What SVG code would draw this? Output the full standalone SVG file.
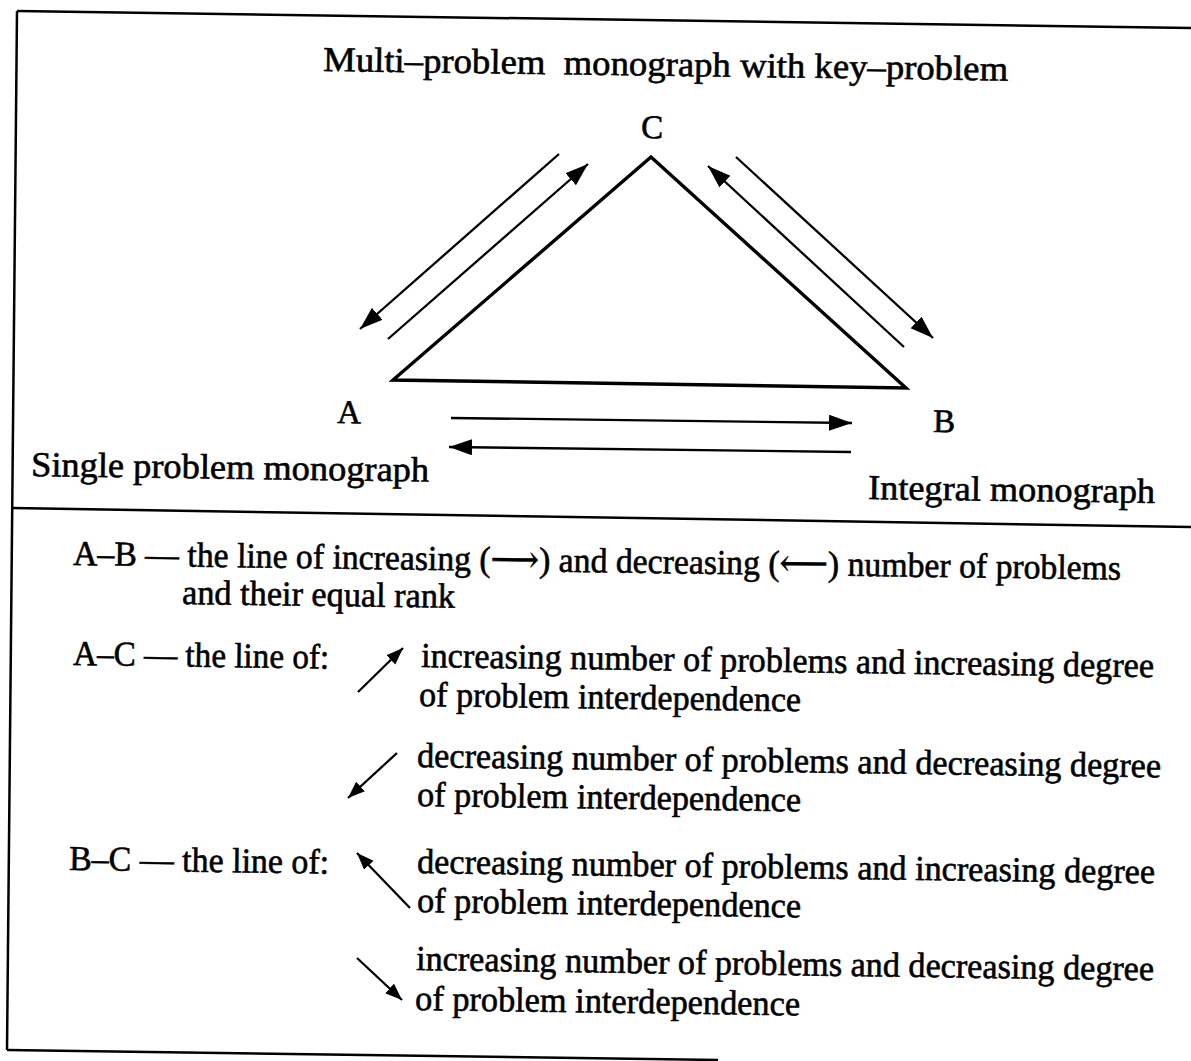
<svg xmlns="http://www.w3.org/2000/svg" width="1191" height="1061" viewBox="0 0 1191 1061">
<defs>
<style>
text{font-family:"Liberation Serif","Times New Roman","DejaVu Serif",serif;fill:#000;stroke:#000;stroke-width:0.6;white-space:pre}
.t{font-size:35px}
.l{font-size:33px}
.lg{font-size:35px}
.frame{stroke:#000;stroke-width:2.5;fill:none}
.tri{stroke:#000;stroke-width:3.4;fill:none;stroke-linejoin:miter}
.arr{stroke:#000;stroke-width:2.3;fill:none;marker-end:url(#head)}
.sarr{stroke:#000;stroke-width:2.3;fill:none;marker-end:url(#shead)}
</style>
<marker id="head" markerUnits="userSpaceOnUse" markerWidth="26" markerHeight="18" refX="23" refY="8" orient="auto">
<path d="M0,0 L23,8 L0,16 z" fill="#000"/>
</marker>
<marker id="shead" markerUnits="userSpaceOnUse" markerWidth="20" markerHeight="14" refX="17" refY="6.5" orient="auto">
<path d="M0,0 L17,6.5 L0,13 z" fill="#000"/>
</marker>
</defs>
<rect width="1191" height="1061" fill="#fff"/>

<g id="frame">
<path class="frame" d="M17,11 L1191,28"/>
<path class="frame" d="M17,11 L7,1050"/>
<path class="frame" d="M12,508 L1191,527"/>
<path class="frame" d="M7,1050 L718,1060"/>
</g>

<g id="triangle">
<path class="tri" d="M393,380 L651,157 L906,388 Z"/>
</g>

<g id="node-C">
<text class="t" x="323" y="71" textLength="685" lengthAdjust="spacingAndGlyphs" transform="rotate(0.8 323 71)">Multi–problem  monograph with key–problem</text>
<text class="l" x="641" y="138" transform="rotate(0.8 641 138)">C</text>
</g>

<g id="node-A">
<text class="l" x="337" y="423" transform="rotate(0.8 337 423)">A</text>
<text class="t" x="31" y="476" textLength="398" lengthAdjust="spacingAndGlyphs" transform="rotate(0.8 31 476)">Single problem monograph</text>
</g>

<g id="node-B">
<text class="l" x="933" y="432" transform="rotate(0.8 933 432)">B</text>
<text class="t" x="868" y="499" textLength="287" lengthAdjust="spacingAndGlyphs" transform="rotate(0.8 868 499)">Integral monograph</text>
</g>

<g id="connectors">
<path class="arr" d="M559,154 L360,329"/>
<path class="arr" d="M388,339 L588,164"/>
<path class="arr" d="M904,347 L708,166"/>
<path class="arr" d="M736,157 L933,338"/>
<path class="arr" d="M451,418 L852,423"/>
<path class="arr" d="M851,452 L449,447"/>
</g>

<g id="legend">
<text class="lg" x="73" y="565" textLength="1048" lengthAdjust="spacingAndGlyphs" transform="rotate(0.8 73 565)">A–B — the line of increasing (⟶) and decreasing (⟵) number of problems</text>
<text class="lg" x="182" y="604" textLength="273" lengthAdjust="spacingAndGlyphs" transform="rotate(0.8 182 604)">and their equal rank</text>
<text class="lg" x="73" y="665" textLength="256" lengthAdjust="spacingAndGlyphs" transform="rotate(0.8 73 665)">A–C — the line of:</text>
<text class="lg" x="421" y="667" textLength="733" lengthAdjust="spacingAndGlyphs" transform="rotate(0.8 421 667)">increasing number of problems and increasing degree</text>
<text class="lg" x="419" y="706" textLength="382" lengthAdjust="spacingAndGlyphs" transform="rotate(0.8 419 706)">of problem interdependence</text>
<text class="lg" x="417" y="767" textLength="744" lengthAdjust="spacingAndGlyphs" transform="rotate(0.8 417 767)">decreasing number of problems and decreasing degree</text>
<text class="lg" x="417" y="806" textLength="384" lengthAdjust="spacingAndGlyphs" transform="rotate(0.8 417 806)">of problem interdependence</text>
<text class="lg" x="69" y="870" textLength="260" lengthAdjust="spacingAndGlyphs" transform="rotate(0.8 69 870)">B–C — the line of:</text>
<text class="lg" x="417" y="873" textLength="738" lengthAdjust="spacingAndGlyphs" transform="rotate(0.8 417 873)">decreasing number of problems and increasing degree</text>
<text class="lg" x="417" y="912" textLength="384" lengthAdjust="spacingAndGlyphs" transform="rotate(0.8 417 912)">of problem interdependence</text>
<text class="lg" x="416" y="970" textLength="738" lengthAdjust="spacingAndGlyphs" transform="rotate(0.8 416 970)">increasing number of problems and decreasing degree</text>
<text class="lg" x="415" y="1010" textLength="385" lengthAdjust="spacingAndGlyphs" transform="rotate(0.8 415 1010)">of problem interdependence</text>
<path class="sarr" d="M358,692 L403,648"/>
<path class="sarr" d="M397,753 L348,798"/>
<path class="sarr" d="M410,908 L357,853"/>
<path class="sarr" d="M357,958 L402,1000"/>
</g>
</svg>
